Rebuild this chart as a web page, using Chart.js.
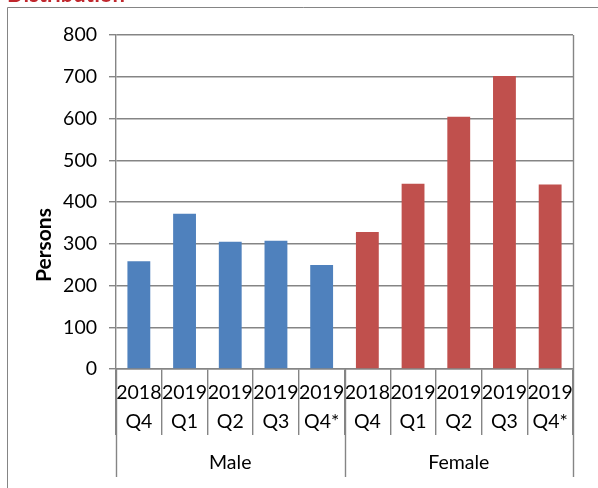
<!DOCTYPE html>
<html><head><meta charset="utf-8">
<script src="https://cdn.jsdelivr.net/npm/chart.js@4"></script>
<style>html,body{margin:0;padding:0;background:#fff;overflow:hidden}</style>
</head><body>
<canvas id="c" width="598" height="488"></canvas>
<script>
const chartTitle = 'Distribution';
const groups = ['Male', 'Female'];
const quarters = [['2018', 'Q4'], ['2019', 'Q1'], ['2019', 'Q2'], ['2019', 'Q3'], ['2019', 'Q4*']];
const maleValues = [258, 372, 305, 307, 249];
const femaleValues = [328, 444, 604, 702, 442];
const yTicks = [0, 100, 200, 300, 400, 500, 600, 700, 800];
const yTitle = 'Persons';

const GRID = '#858585';
const FONT = 'Lato, "Open Sans", sans-serif';
const FS = 19.5;
const labels = quarters.concat(quarters);
const n = quarters.length;
const nulls = new Array(n).fill(null);

const extras = {
  id: 'extras',
  beforeDraw(chart) {
    const ctx = chart.ctx;
    ctx.save();
    ctx.strokeStyle = GRID;
    ctx.lineWidth = 1;
    ctx.beginPath();
    ctx.moveTo(7.5, 600); ctx.lineTo(7.5, 7.5); ctx.lineTo(700, 7.5);
    ctx.stroke();
    ctx.fillStyle = '#C0272D';
    ctx.font = 'bold 22px ' + FONT;
    ctx.textAlign = 'left';
    ctx.textBaseline = 'alphabetic';
    ctx.fillText(chartTitle, 7, 2);
    ctx.restore();
  },
  afterDraw(chart) {
    const ctx = chart.ctx;
    const xs = chart.scales.x;
    const a = chart.chartArea;
    ctx.save();
    ctx.strokeStyle = GRID;
    ctx.lineWidth = 1.4;
    ctx.beginPath();
    const rx = Math.round(a.right) + 0.5;
    ctx.moveTo(rx, a.top); ctx.lineTo(rx, a.bottom);
    ctx.stroke();
    const bounds = [];
    for (let g = 0; g <= groups.length; g++) bounds.push(xs.getPixelForValue(g * n - 0.5));
    ctx.beginPath();
    bounds.forEach(b => {
      const x = Math.round(b) + 0.5;
      ctx.moveTo(x, a.bottom); ctx.lineTo(x, 477);
    });
    ctx.stroke();
    ctx.fillStyle = '#000';
    ctx.font = FS + 'px ' + FONT;
    ctx.textAlign = 'center';
    ctx.textBaseline = 'middle';
    groups.forEach((g, i) => ctx.fillText(g, (bounds[i] + bounds[i + 1]) / 2, 463));
    ctx.translate(44, 245);
    ctx.rotate(-Math.PI / 2);
    ctx.font = 'bold 21px ' + FONT;
    ctx.fillText(yTitle, 0, 0);
    ctx.restore();
  }
};

new Chart(document.getElementById('c'), {
  type: 'bar',
  data: {
    labels: labels,
    datasets: [
      { label: groups[0], data: maleValues.concat(nulls), backgroundColor: '#4F81BD', borderWidth: 0 },
      { label: groups[1], data: nulls.concat(femaleValues), backgroundColor: '#C0504D', borderWidth: 0 }
    ]
  },
  options: {
    responsive: false,
    animation: false,
    devicePixelRatio: 1,
    layout: { padding: { top: 35, right: 25, left: 0, bottom: 0 } },
    datasets: { bar: { grouped: false, barPercentage: 0.5, categoryPercentage: 1 } },
    plugins: { legend: { display: false }, tooltip: { enabled: false }, title: { display: false } },
    scales: {
      x: {
        grid: { display: true, drawOnChartArea: false, offset: true, tickLength: 66, color: GRID, lineWidth: 1.4 },
        border: { display: true, color: GRID, width: 1.4 },
        ticks: { font: { family: FONT, size: FS, lineHeight: '29px' }, color: '#000', padding: -56.5, maxRotation: 0, minRotation: 0, autoSkip: false },
        afterFit(s) { s.height = 119; }
      },
      y: {
        min: 0, max: 800,
        afterBuildTicks(s) { s.ticks = yTicks.map(v => ({ value: v })); },
        grid: { color: GRID, lineWidth: 1.4, tickLength: 7 },
        border: { display: true, color: GRID, width: 1.4 },
        ticks: { font: { family: FONT, size: FS }, color: '#000', padding: 12 },
        afterFit(s) { s.width = 116; }
      }
    }
  },
  plugins: [extras]
});
</script>
</body></html>
